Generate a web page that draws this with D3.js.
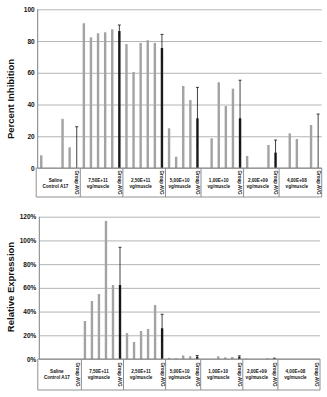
<!DOCTYPE html>
<html>
<head>
<meta charset="utf-8">
<script src="https://cdnjs.cloudflare.com/ajax/libs/d3/7.8.5/d3.min.js"></script>
<style>
  html, body { margin: 0; padding: 0; background: #fff; }
  svg { display: block; font-family: "Liberation Sans", Arial, sans-serif; }
</style>
</head>
<body>
<svg id="chart" width="327" height="397"></svg>
<script>
// dose groups (two label lines each)
const groupLabels = [
  ["Saline", "Control A17"],
  ["7,50E+11", "vg/muscle"],
  ["2,50E+11", "vg/muscle"],
  ["5,00E+10", "vg/muscle"],
  ["1,00E+10", "vg/muscle"],
  ["2,00E+09", "vg/muscle"],
  ["4,00E+08", "vg/muscle"]
];

// percent inhibition per animal, null = below axis
const inhibition = [
  [8, null, null, 31, 13],
  [91.2, 82.3, 84.9, 85.5, 87.4],
  [78.1, 60.5, 78.8, 80.5, 78.8],
  [25, 7.1, 51.7, 42.8],
  [0, 18.7, 54, 39, 50],
  [7.6, null, null, 14.5],
  [null, 21.8, 18.3, null, 27.1]
];
const inhibitionAvg = [0, 86.3, 75.6, 31.3, 31.3, 9.7, 0];
const inhibitionSd = [26, 3.8, 8.6, 19.5, 24, 7.9, 34];
const inhibitionTicks = [0, 20, 40, 60, 80, 100];

// relative expression (%) per animal
const expression = [
  [0, 0, 0, 0, 0],
  [32, 48.9, 54.8, 116.4, 62.4],
  [21.9, 14.3, 23.6, 25.3, 45.5],
  [1, 0.8, 3, 2.3],
  [0, 0, 2.3, 1.4, 1.7],
  [0.3, null, null, 0.8],
  [0, 0, 0, 0, 0]
];
const expressionAvg = [0, 62.4, 25.9, 1.8, 1.6, 0.4, 0];
const expressionSd = [0, 31.8, 11.8, 1.1, 1.0, 0.3, 0];
const expressionTicks = [0, 20, 40, 60, 80, 100, 120];

const svg = d3.select("#chart");
const GRAY = "#a3a3a3", DARK = "#1c1c1c";

function drawPanel(p) {
  // flatten groups into consecutive slots: animals then the group average
  const slots = [];
  const spans = [];
  p.values.forEach((vals, g) => {
    const start = slots.length;
    vals.forEach(v => slots.push({ g, v, avg: false }));
    slots.push({ g, v: p.avg[g], sd: p.sd[g], avg: true });
    spans.push({ g, start, end: slots.length - 1 });
  });

  const x = d3.scaleBand().domain(d3.range(slots.length)).range([p.x0, p.x1]);
  const y = d3.scaleLinear().domain([0, p.max]).range([p.yBase, p.yTop]);
  const bw = x.bandwidth() * 0.34;
  const cx = i => x(i) + x.bandwidth() / 2;

  const g = svg.append("g");

  // gridlines + tick labels
  const axis = d3.axisLeft(y).tickValues(p.ticks)
    .tickSizeInner(-(p.x1 - p.x0)).tickSizeOuter(0).tickPadding(3)
    .tickFormat(p.fmt);
  const ax = g.append("g").attr("transform", `translate(${p.x0},0)`).call(axis);
  ax.select(".domain").remove();
  ax.selectAll(".tick line").attr("stroke", "#b4b4b4").attr("stroke-width", 1);
  ax.selectAll(".tick text").attr("fill", "#111").style("font-size", "6.5px").style("font-weight", "bold");
  g.append("line").attr("x1", p.x0).attr("x2", p.x0).attr("y1", p.yTop).attr("y2", p.yBase)
    .attr("stroke", "#808080");

  // bars
  g.selectAll("rect.bar")
    .data(slots.map((s, i) => ({ ...s, i })).filter(s => s.v != null && s.v > 0))
    .join("rect")
    .attr("x", d => cx(d.i) - bw / 2)
    .attr("y", d => y(d.v))
    .attr("width", bw)
    .attr("height", d => y(0) - y(d.v))
    .attr("fill", d => d.avg ? DARK : GRAY);

  // standard deviation whiskers on the group averages
  const errs = slots.map((s, i) => ({ ...s, i })).filter(s => s.avg && s.sd > 0);
  const lo = d => y(Math.max(0, d.v - d.sd));
  const hi = d => y(Math.min(p.max, d.v + d.sd));
  g.selectAll("line.err").data(errs).join("line")
    .attr("x1", d => cx(d.i)).attr("x2", d => cx(d.i))
    .attr("y1", lo).attr("y2", hi)
    .attr("stroke", "#111").attr("stroke-width", 0.8);
  g.selectAll("line.cap").data(errs).join("line")
    .attr("x1", d => cx(d.i) - 1.5).attr("x2", d => cx(d.i) + 1.5)
    .attr("y1", hi).attr("y2", hi)
    .attr("stroke", "#111").attr("stroke-width", 0.8);

  // category box under the plot
  g.append("line").attr("x1", p.x0 - 1.5).attr("x2", p.x1).attr("y1", p.yBase).attr("y2", p.yBase)
    .attr("stroke", "#808080");
  g.append("line").attr("x1", p.x0 - 1.5).attr("x2", p.x1).attr("y1", p.boxBottom).attr("y2", p.boxBottom)
    .attr("stroke", "#909090");
  const edges = [p.x0 - 1.5].concat(spans.map(s => x(s.end) + x.bandwidth()));
  g.selectAll("line.div").data(edges).join("line")
    .attr("x1", d => d).attr("x2", d => d)
    .attr("y1", p.yBase).attr("y2", p.boxBottom)
    .attr("stroke", "#909090");

  const labels = g.selectAll("text.grp").data(spans).join("text")
    .attr("text-anchor", "middle")
    .attr("x", d => (x(d.start) + x(d.end)) / 2)
    .attr("y", p.label1)
    .style("font-size", "4.6px").style("font-weight", "bold").attr("fill", "#111");
  labels.append("tspan").text(d => groupLabels[d.g][0]);
  labels.append("tspan").attr("x", d => (x(d.start) + x(d.end)) / 2).attr("dy", p.lineGap)
    .text(d => groupLabels[d.g][1]);

  const midBox = (p.yBase + p.boxBottom) / 2;
  g.selectAll("text.avg").data(spans).join("text")
    .attr("transform", d => `translate(${cx(d.end) - 1.6},${midBox}) rotate(90)`)
    .attr("text-anchor", "middle")
    .style("font-size", "4.5px").style("font-weight", "bold").attr("fill", "#111")
    .text("Group AVG");

  // y axis title
  svg.append("text")
    .attr("transform", `translate(${p.titleX},${p.titleY}) rotate(-90)`)
    .attr("text-anchor", "middle")
    .style("font-size", "9.5px").style("font-weight", "bold").attr("fill", "#111")
    .text(p.title);
}

drawPanel({
  values: inhibition, avg: inhibitionAvg, sd: inhibitionSd, ticks: inhibitionTicks,
  max: 100, fmt: d => d,
  x0: 37.7, x1: 321.7, yTop: 9.3, yBase: 168, boxBottom: 197,
  label1: 182, lineGap: 6.3,
  title: "Percent Inhibition", titleX: 14, titleY: 99
});

drawPanel({
  values: expression, avg: expressionAvg, sd: expressionSd, ticks: expressionTicks,
  max: 120, fmt: d => d + "%",
  x0: 39.3, x1: 320, yTop: 216.7, yBase: 359, boxBottom: 390,
  label1: 372.6, lineGap: 6.3,
  title: "Relative Expression", titleX: 14, titleY: 287
});
</script>
</body>
</html>
